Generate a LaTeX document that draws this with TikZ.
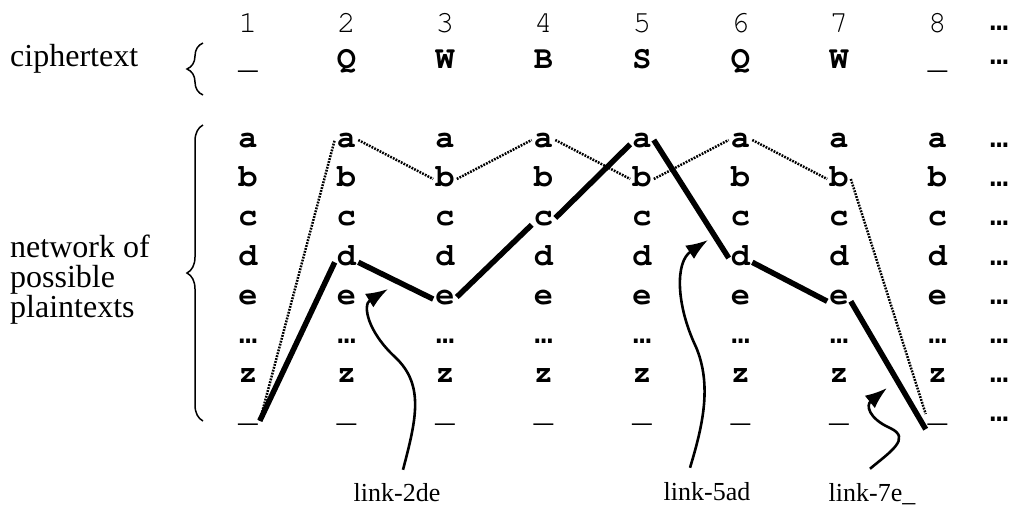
\documentclass[tikz,border=0pt]{standalone}
\usepackage[T1]{fontenc}
\usepackage{fontspec}
\setmainfont{Liberation Serif}
\newfontfamily\elfont{Liberation Mono}
\usepackage{tikz}
\usetikzlibrary{arrows.meta, decorations.pathreplacing}
\tikzset{>=latex}
\newcommand{\crfont}{\fontencoding{T1}\fontfamily{pcr}\selectfont}

\begin{document}
\begin{tikzpicture}[
    x = 1pt, y = -1pt,
    lt/.style = {font=\crfont\bfseries\fontsize{32}{32}\selectfont, inner sep=2pt, text height=20pt, text depth=6pt, minimum width=22pt, anchor=base},
    nm/.style = {lt, font=\crfont\mdseries\fontsize{31}{31}\selectfont},
    ld/.style = {font=\elfont\bfseries\fontsize{30}{30}\selectfont, inner sep=2pt, anchor=base},
    tx/.style = {font=\fontsize{32}{30}\selectfont, inner sep=0pt},
    lb/.style = {font=\fontsize{26}{26}\selectfont, inner sep=2pt, anchor=base},
    br/.style = {decorate, decoration={brace, amplitude=16pt}, line width=1.5pt},
    sp/.style = {line width=5.5pt},
    dp/.style = {line width=2.5pt, dash pattern=on 1.8pt off 1.2pt},
    ar/.style = {line width=2.6pt, -{Latex[length=22pt, width=16pt]}},
]
\useasboundingbox (0,0) rectangle (1009,507);

\foreach \i in {1,...,8}{
  \node[nm] (h\i) at ({248+98.5*(\i-1)}, 32) {\i};
  \foreach \r/\t/\yb in {a/a/147, b/b/186, c/c/225, d/d/265, e/e/304, z/z/382, u/{\mdseries\_}/421}
    \node[lt] (\r\i) at ({248+98.5*(\i-1)}, \yb) {\t};
  \node[ld] (m\i) at ({248+98.5*(\i-1)}, 343) {…};
}
\foreach \t [count=\i] in {{\mdseries\_}, Q, W, B, S, Q, W, {\mdseries\_}}
  \node[lt] (k\i) at ({248+98.5*(\i-1)}, 68) {\t};
\node[ld] (h9) at (999, 30) {…};
\node[ld] (k9) at (999, 64) {…};
\foreach \yb [count=\k] in {147, 186, 225, 265, 304, 343, 382, 421}
  \node[ld] (r\k) at (999, \yb) {…};

\node[tx, anchor=base west] (ct) at (10, 66) {ciphertext};
\node[tx, anchor=base west, align=left] (np) at (10, 317) {network of\\possible\\plaintexts};
\draw[br] (203, 95) -- (203, 43);
\draw[br] (203, 421) -- (203, 125);

\draw[dp] (u1.-30) -- (a2.west) (a2.east) -- (b3.west) (b3.east) -- (a4.west) (a4.east) -- (b5.west)
  (b5.east) -- (a6.west) (a6.east) -- (b7.west) (b7.east) -- (u8.west);
\draw[sp] (u1.-30) -- (d2.200);
\draw[sp] (d2.-20) -- (e3.190);
\draw[sp] (e3.east) -- (c4.210);
\draw[sp] (c4.east) -- (a5.200);
\draw[sp] (a5.east) -- (d6.west);
\draw[sp] (d6.-20) -- (e7.200);
\draw[sp] (e7.-20) -- (u8.south west);

\node[lb] (l2) at (397, 501) {link-2de};
\node[lb] (l5) at (707, 500) {link-5ad};
\node[lb] (l7) at (872, 501) {link-7e\_};
\coordinate (t2) at (388, 289);
\coordinate (t5) at (708, 240);
\coordinate (t7) at (887, 388);
\draw[ar] ([xshift=6pt, yshift=11pt]l2.north) .. controls (416, 420) and (425, 385) .. (395, 357)
  .. controls (368, 332) and (362, 305) .. (t2);
\draw[ar] ([xshift=-17pt, yshift=12pt]l5.north) .. controls (703, 425) and (712, 385) .. (696, 347)
  .. controls (676, 305) and (675, 262) .. (t5);
\draw[ar] ([xshift=-2pt, yshift=12pt]l7.north) .. controls (890, 452) and (912, 438) .. (890, 428)
  .. controls (868, 418) and (866, 405) .. (t7);
\end{tikzpicture}
\end{document}
